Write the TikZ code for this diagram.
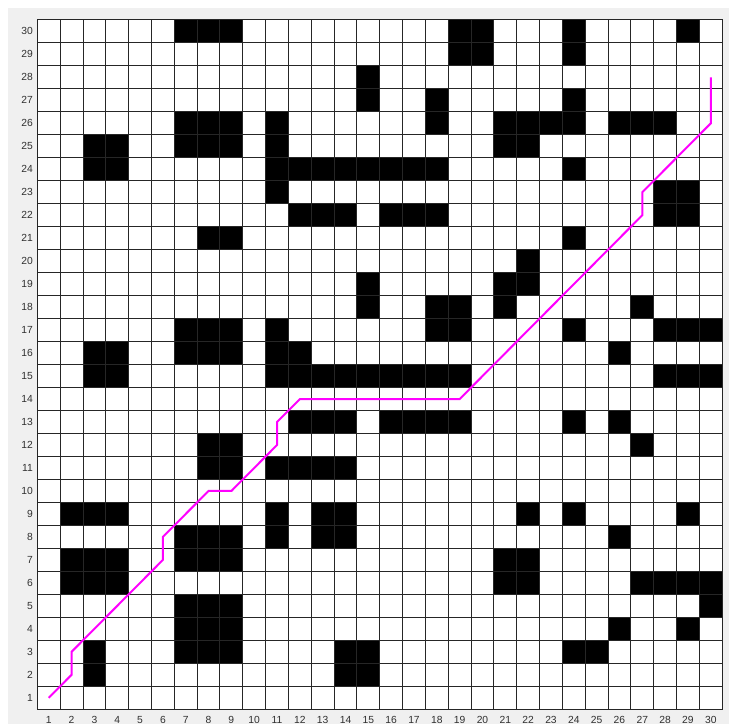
\documentclass[tikz,border=0pt]{standalone}
\usepackage{fontspec}
\setmainfont{Liberation Sans}
\definecolor{figbg}{HTML}{F0F0F0}
\definecolor{ticktext}{HTML}{303030}
\definecolor{pathcol}{HTML}{FF00FF}
\tikzset{
  gridline/.style={draw=black!85,line width=0.9pt},
  blockcell/.style={fill=black},
  route/.style={draw=pathcol,line width=2pt,line join=miter},
  ylab/.style={anchor=east,inner sep=0pt,font=\fontsize{10.3}{12}\selectfont,text=ticktext,xshift=-4.2pt},
  xlab/.style={anchor=north,inner sep=0pt,font=\fontsize{10.3}{12}\selectfont,text=ticktext,yshift=-6.6pt}
}
\begin{document}
\begin{tikzpicture}
\useasboundingbox (0pt,0pt) rectangle (729pt,724pt);
\fill[white] (0pt,0pt) rectangle (729pt,724pt);
\fill[figbg] (8pt,0pt) rectangle (729pt,716pt);
\begin{scope}[shift={(37.3pt,14.7pt)},x=22.83pt,y=22.98pt]
  \fill[white] (0,0) rectangle (30,30);
  \foreach \a/\b/\r in {
    7/9/30, 19/20/30, 24/24/30, 29/29/30,
    19/20/29, 24/24/29,
    15/15/28,
    15/15/27, 18/18/27, 24/24/27,
    7/9/26, 11/11/26, 18/18/26, 21/24/26, 26/28/26,
    3/4/25, 7/9/25, 11/11/25, 21/22/25,
    3/4/24, 11/18/24, 24/24/24,
    11/11/23, 28/29/23,
    12/14/22, 16/18/22, 28/29/22,
    8/9/21, 24/24/21,
    22/22/20,
    15/15/19, 21/22/19,
    15/15/18, 18/19/18, 21/21/18, 27/27/18,
    7/9/17, 11/11/17, 18/19/17, 24/24/17, 28/30/17,
    3/4/16, 7/9/16, 11/12/16, 26/26/16,
    3/4/15, 11/19/15, 28/30/15,
    12/14/13, 16/19/13, 24/24/13, 26/26/13,
    8/9/12, 27/27/12,
    8/9/11, 11/14/11,
    2/4/9, 11/11/9, 13/14/9, 22/22/9, 24/24/9, 29/29/9,
    7/9/8, 11/11/8, 13/14/8, 26/26/8,
    2/4/7, 7/9/7, 21/22/7,
    2/4/6, 21/22/6, 27/30/6,
    7/9/5, 30/30/5,
    7/9/4, 26/26/4, 29/29/4,
    3/3/3, 7/9/3, 14/15/3, 24/25/3,
    3/3/2, 14/15/2}
  {\fill[blockcell] (\a-1,\r-1) rectangle (\b,\r);}
  \draw[gridline,step=1] (0,0) grid (30,30);
  \draw[gridline] (0,0) rectangle (30,30);
  \foreach \k in {1,...,30} {
    \node[ylab] (ly\k) at (0,\k-0.5) {\k};
    \node[xlab] (lx\k) at (\k-0.5,0) {\k};
  }
  \draw[route] (0.5,0.5) -- (1.5,1.5) -- (1.5,2.5) -- (5.5,6.5) -- (5.5,7.5)
    -- (7.5,9.5) -- (8.5,9.5) -- (10.5,11.5) -- (10.5,12.5) -- (11.5,13.5)
    -- (18.5,13.5) -- (26.5,21.5) -- (26.5,22.5) -- (29.5,25.5) -- (29.5,27.5);
\end{scope}
\end{tikzpicture}
\end{document}
